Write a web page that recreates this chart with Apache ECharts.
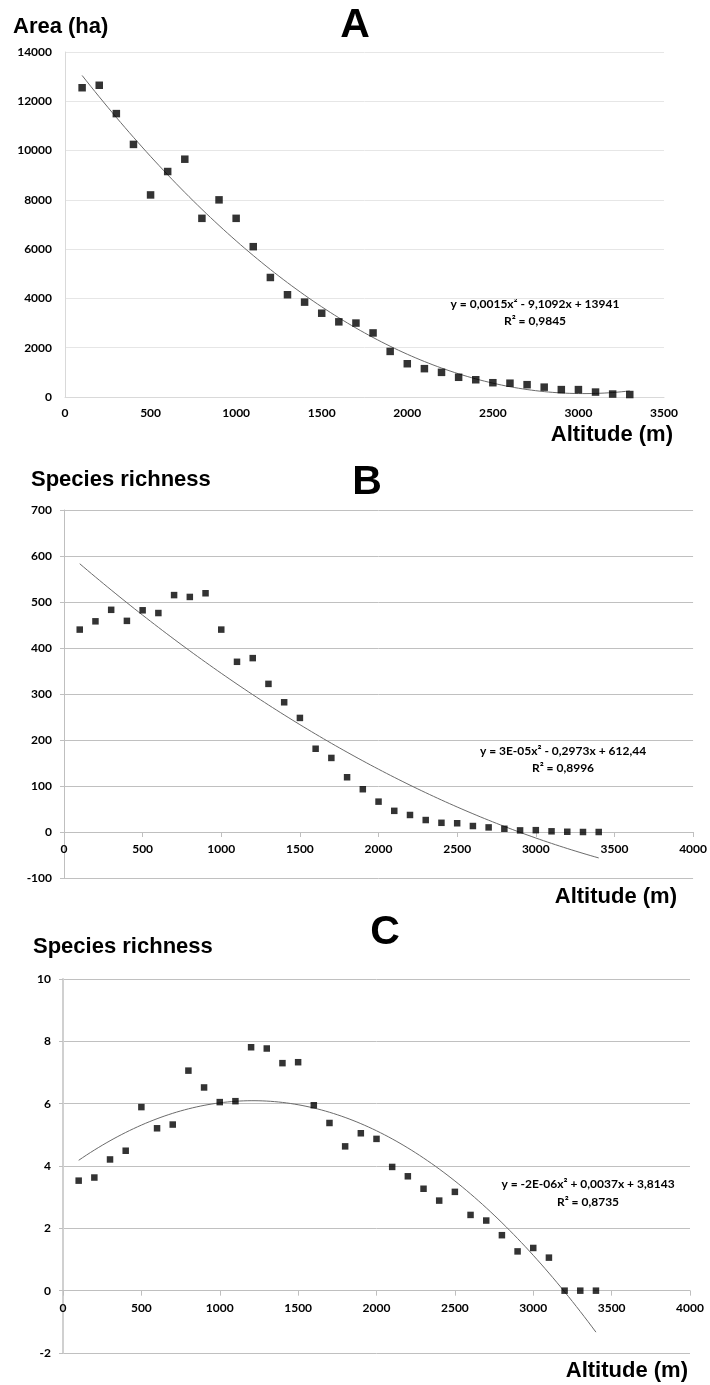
<!DOCTYPE html>
<html>
<head>
<meta charset="utf-8">
<script src="https://cdn.jsdelivr.net/npm/echarts@6/dist/echarts.min.js"></script>
<style>
  html, body { margin: 0; padding: 0; background: #fff; }
  #chart { width: 710px; height: 1385px; }
</style>
</head>
<body>
<div id="chart"></div>
<script>
// ---- Data ----
const altitudeA = [100,200,300,400,500,600,700,800,900,1000,1100,1200,1300,1400,1500,1600,1700,1800,1900,2000,2100,2200,2300,2400,2500,2600,2700,2800,2900,3000,3100,3200,3300];
const areaA = [12550,12650,11500,10250,8200,9150,9650,7250,8000,7250,6100,4850,4150,3850,3400,3050,3000,2600,1850,1350,1150,1000,800,700,580,560,500,400,300,300,200,120,100];

const altitudeBC = [100,200,300,400,500,600,700,800,900,1000,1100,1200,1300,1400,1500,1600,1700,1800,1900,2000,2100,2200,2300,2400,2500,2600,2700,2800,2900,3000,3100,3200,3300,3400];
const richnessB = [440,458,483,459,482,476,515,511,519,440,370,378,322,282,248,181,161,119,93,66,46,37,26,20,19,13,10,7,3.5,4,1.5,0.5,0,0];
const richnessC = [3.53,3.63,4.21,4.49,5.89,5.21,5.33,7.06,6.52,6.05,6.08,7.81,7.77,7.30,7.33,5.95,5.38,4.63,5.05,4.87,3.97,3.67,3.27,2.89,3.17,2.43,2.25,1.78,1.26,1.37,1.06,0,0,0];

const panelLetters = ['A', 'B', 'C'];
const yTitles = ['Area (ha)', 'Species richness', 'Species richness'];
const xTitle = 'Altitude (m)';
const equations = ['y = 0,0015x\u00B2 - 9,1092x + 13941', 'y = 3E-05x\u00B2 - 0,2973x + 612,44', 'y = -2E-06x\u00B2 + 0,0037x + 3,8143'];
const rSquared = ['R\u00B2 = 0,9845', 'R\u00B2 = 0,8996', 'R\u00B2 = 0,8735'];

// axis ranges [min, max, interval]
const xRangeA = [0, 3500, 500];
const yRangeA = [0, 14000, 2000];
const xRangeB = [0, 4000, 500];
const yRangeB = [-100, 700, 100];
const xRangeC = [0, 4000, 500];
const yRangeC = [-2, 10, 2];

// ---- Quadratic least-squares trendline (as a spreadsheet would fit) ----
function quadFit(xs, ys) {
  const n = xs.length;
  let s = [0,0,0,0,0], t = [0,0,0];
  for (let i = 0; i < n; i++) {
    const x = xs[i] / 1000, y = ys[i];
    let p = 1;
    for (let k = 0; k <= 4; k++) { s[k] += p; if (k <= 2) t[k] += p * y; p *= x; }
  }
  const A = [[s[0], s[1], s[2], t[0]], [s[1], s[2], s[3], t[1]], [s[2], s[3], s[4], t[2]]];
  for (let c = 0; c < 3; c++) {
    let piv = c;
    for (let r = c + 1; r < 3; r++) if (Math.abs(A[r][c]) > Math.abs(A[piv][c])) piv = r;
    [A[c], A[piv]] = [A[piv], A[c]];
    for (let r = 0; r < 3; r++) {
      if (r === c) continue;
      const f = A[r][c] / A[c][c];
      for (let k = c; k < 4; k++) A[r][k] -= f * A[c][k];
    }
  }
  const c0 = A[0][3] / A[0][0], c1 = A[1][3] / A[1][1], c2 = A[2][3] / A[2][2];
  return x => { const u = x / 1000; return c0 + c1 * u + c2 * u * u; };
}
function trend(xs, ys) {
  const f = quadFit(xs, ys);
  const lo = Math.min(...xs), hi = Math.max(...xs);
  const out = [];
  for (let x = lo; x <= hi + 1e-9; x += 25) out.push([x, f(x)]);
  return out;
}
const pairs = (xs, ys) => xs.map((x, i) => [x, ys[i]]);

// ---- Styling ----
const tickFont = { fontFamily: 'Lato', fontWeight: 'bold', fontSize: 12, color: '#000', formatter: v => String(v) };
const titleFont = 'bold 22px "Liberation Sans", Arial, sans-serif';
const letterFont = 'bold 41px "Liberation Sans", Arial, sans-serif';
const eqFont = 'bold 12px Lato, sans-serif';

const grids = [
  { left: 65, top: 52, width: 599, height: 345 },
  { left: 64, top: 510, width: 631, height: 368 },
  { left: 63, top: 979, width: 627, height: 374 }
];

// x axis drawn across the y = 0 level of its grid
function xAxisCfg(idx, r, yr, light) {
  const zeroOffset = -grids[idx].height * (0 - yr[0]) / (yr[1] - yr[0]);
  return {
    type: 'value', gridIndex: idx, min: r[0], max: r[1], interval: r[2],
    position: 'bottom', offset: zeroOffset,
    axisLine: { show: true, onZero: false, lineStyle: { color: light ? '#d9d9d9' : '#bfbfbf', width: 1 } },
    axisTick: { show: !light, length: 5, lineStyle: { color: '#bfbfbf' } },
    axisLabel: Object.assign({ margin: light ? 10 : 11 }, tickFont),
    splitLine: { show: false }
  };
}
function yAxisCfg(idx, r, light, axisColor, axisWidth) {
  return {
    type: 'value', gridIndex: idx, min: r[0], max: r[1], interval: r[2],
    axisLine: { show: true, onZero: false, lineStyle: { color: axisColor, width: axisWidth } },
    axisTick: { show: !light, length: 4, lineStyle: { color: '#bfbfbf' } },
    axisLabel: Object.assign({ margin: light ? 13 : 12 }, tickFont),
    splitLine: { show: true, lineStyle: { color: light ? '#e6e6e6' : '#c0c0c0', width: 1 } }
  };
}

function scatter(i, xs, ys, size) {
  return { type: 'scatter', xAxisIndex: i, yAxisIndex: i, data: pairs(xs, ys), symbol: 'rect', symbolSize: size,
           itemStyle: { color: '#000' }, z: 3, silent: true };
}
function line(i, xs, ys) {
  return { type: 'line', xAxisIndex: i, yAxisIndex: i, data: trend(xs, ys), showSymbol: false, smooth: false,
           lineStyle: { color: '#6b6b6b', width: 1 }, z: 2, silent: true, clip: false };
}

function txt(text, x, y, font, align) {
  return { type: 'text', x: x, y: y, silent: true,
           style: { text: text, font: font, fill: '#000', align: align || 'left', verticalAlign: 'middle' } };
}

const chart = echarts.init(document.getElementById('chart'), null, { renderer: 'canvas' });
chart.setOption({
  animation: false,
  backgroundColor: '#fff',
  grid: grids,
  xAxis: [xAxisCfg(0, xRangeA, yRangeA, true), xAxisCfg(1, xRangeB, yRangeB, false), xAxisCfg(2, xRangeC, yRangeC, false)],
  yAxis: [yAxisCfg(0, yRangeA, true, '#d9d9d9', 1), yAxisCfg(1, yRangeB, false, '#bfbfbf', 1), yAxisCfg(2, yRangeC, false, '#d0d0d0', 2)],
  series: [
    line(0, altitudeA, areaA), scatter(0, altitudeA, areaA, 7.5),
    line(1, altitudeBC, richnessB), scatter(1, altitudeBC, richnessB, 6.5),
    line(2, altitudeBC, richnessC), scatter(2, altitudeBC, richnessC, 6.5)
  ],
  graphic: [
    txt(yTitles[0], 13, 27, titleFont),
    txt(panelLetters[0], 355, 26, letterFont, 'center'),
    txt(xTitle, 673, 435, titleFont, 'right'),
    txt(equations[0], 535, 304, eqFont, 'center'),
    txt(rSquared[0], 535, 321, eqFont, 'center'),

    txt(yTitles[1], 31, 480, titleFont),
    txt(panelLetters[1], 367, 483, letterFont, 'center'),
    txt(xTitle, 677, 897, titleFont, 'right'),
    txt(equations[1], 563, 751, eqFont, 'center'),
    txt(rSquared[1], 563, 768, eqFont, 'center'),

    txt(yTitles[2], 33, 947, titleFont),
    txt(panelLetters[2], 385, 933, letterFont, 'center'),
    txt(xTitle, 688, 1371, titleFont, 'right'),
    txt(equations[2], 588, 1184, eqFont, 'center'),
    txt(rSquared[2], 588, 1202, eqFont, 'center')
  ]
});
</script>
</body>
</html>
